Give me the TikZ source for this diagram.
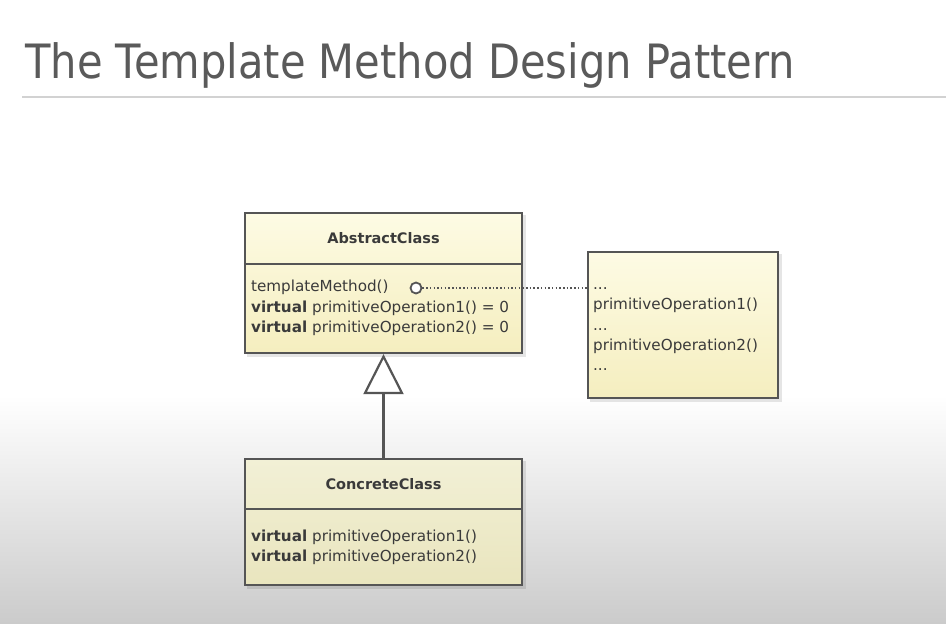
\documentclass[tikz,border=0pt]{standalone}
\usepackage{fontspec}
\setmainfont{DejaVu Sans}
\newfontfamily\headingfont[FakeStretch=0.88]{DejaVu Sans}
\usetikzlibrary{arrows.meta,calc,backgrounds}

\definecolor{titlegrey}{HTML}{5A5A5A}
\definecolor{rulegrey}{HTML}{D2D2D2}
\definecolor{frame}{HTML}{555555}
\definecolor{ink}{HTML}{3A3A3A}
\definecolor{paleA}{HTML}{FDFBE4}
\definecolor{paleB}{HTML}{F5EEBF}
\definecolor{paleC}{HTML}{F2F0D6}
\definecolor{paleD}{HTML}{E9E5BE}
\definecolor{bgbottom}{HTML}{CBCBCB}

\begin{document}
\begin{tikzpicture}[x=1pt,y=-1pt,
  umlbox/.style={draw=frame, line width=2.2pt, rectangle, inner sep=0pt},
  divider/.style={draw=frame, line width=2.2pt},
  classname/.style={font=\fontsize{14.5}{18}\selectfont\bfseries, text=ink, inner sep=0pt},
  member/.style={anchor=base west, font=\fontsize{15.2}{18}\selectfont, text=ink, inner sep=0pt},
  hookmark/.style={circle, draw=frame, fill=white, line width=1.8pt, minimum size=11pt, inner sep=0pt},
  hookline/.style={draw=frame, line width=1.5pt, dash pattern=on 1.5pt off 2.2pt},
  inherit/.style={draw=frame, line width=2.2pt, -{Triangle[length=40pt, width=40pt, fill=white, line width=2.2pt]}},
  boxshadow/.style={fill=black, opacity=0.10}
]
\useasboundingbox (0,0) rectangle (946,624);

% page background: white fading to grey towards the bottom
\begin{scope}[on background layer]
  \fill[white] (0,0) rectangle (946,624);
  \shade[top color=white, bottom color=bgbottom] (0,395) rectangle (946,624);
\end{scope}

% heading and rule
\node[anchor=base west, inner sep=0pt, font=\headingfont\fontsize{47.3}{57}\selectfont, text=titlegrey] (title) at (25,78) {The Template Method Design Pattern};
\draw[rulegrey, line width=1.2pt] (22,97) -- (946,97);

% abstract class
\node[umlbox, minimum width=277pt, minimum height=140pt, top color=paleA, bottom color=paleB] (abstract) at (383.5,283) {};
\draw[divider] ($(abstract.north west)+(0,52)$) -- ($(abstract.north east)+(0,52)$);
\node[classname] (abstractname) at ($(abstract.north)+(0,26)$) {AbstractClass};
\node[member] (tmethod) at ($(abstract.north west)+(7,80)$) {templateMethod()};
\node[member] (aop1) at ($(abstract.north west)+(7,100.5)$) {\textbf{virtual} primitiveOperation1() = 0};
\node[member] (aop2) at ($(abstract.north west)+(7,121)$) {\textbf{virtual} primitiveOperation2() = 0};

% note with the body of the template method
\node[umlbox, minimum width=190pt, minimum height=146pt, top color=paleA, bottom color=paleB] (note) at (683,325) {};
\node[member] (n1) at ($(note.north west)+(6,39)$) {...};
\node[member] (n2) at ($(note.north west)+(6,59)$) {primitiveOperation1()};
\node[member] (n3) at ($(note.north west)+(6,79.5)$) {...};
\node[member] (n4) at ($(note.north west)+(6,100)$) {primitiveOperation2()};
\node[member] (n5) at ($(note.north west)+(6,120)$) {...};

% concrete class
\node[umlbox, minimum width=277pt, minimum height=126pt, top color=paleC, bottom color=paleD] (concrete) at (383.5,522) {};
\draw[divider] ($(concrete.north west)+(0,51)$) -- ($(concrete.north east)+(0,51)$);
\node[classname] (concretename) at ($(concrete.north)+(0,26)$) {ConcreteClass};
\node[member] (cop1) at ($(concrete.north west)+(7,84)$) {\textbf{virtual} primitiveOperation1()};
\node[member] (cop2) at ($(concrete.north west)+(7,104)$) {\textbf{virtual} primitiveOperation2()};

% note attachment
\node[hookmark] (hook) at (416,288) {};
\draw[hookline] (hook.east) -- (hook.east -| note.west);

% generalisation
\draw[inherit] (concrete.north) -- (abstract.south);

% soft box shadows
\begin{scope}[on background layer]
  \fill[boxshadow] ($(abstract.north west)+(3,3)$) rectangle ($(abstract.south east)+(3,3)$);
  \fill[boxshadow] ($(note.north west)+(3,3)$) rectangle ($(note.south east)+(3,3)$);
  \fill[boxshadow] ($(concrete.north west)+(3,3)$) rectangle ($(concrete.south east)+(3,3)$);
\end{scope}
\end{tikzpicture}
\end{document}
